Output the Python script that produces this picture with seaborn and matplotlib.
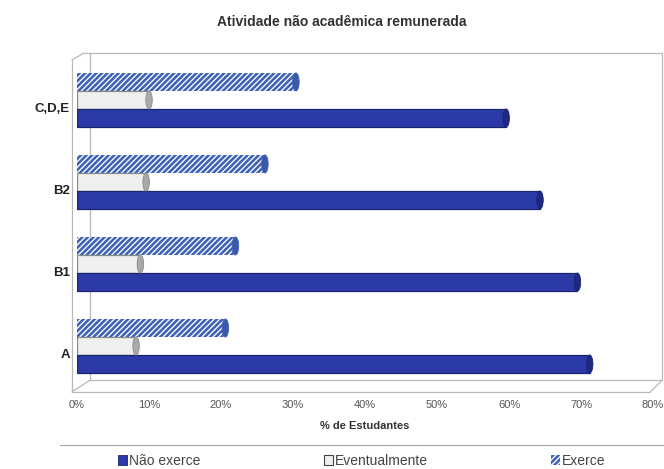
import matplotlib
matplotlib.use("Agg")
import matplotlib.pyplot as plt
import matplotlib.transforms as mtransforms
from matplotlib.patches import Patch, Ellipse
from matplotlib.lines import Line2D
import pandas as pd
import seaborn as sns

# data (% de estudantes)
grupos = ["C,D,E", "B2", "B1", "A"]
nao_exerce = [59.6, 64.3, 69.5, 71.2]
eventualmente = [10.0, 9.6, 8.8, 8.2]
exerce = [30.4, 26.1, 22.0, 20.6]
situacoes = ["Não exerce", "Eventualmente", "Exerce"]
xticks = [0, 10, 20, 30, 40, 50, 60, 70, 80]
xticklabels = ["0%", "10%", "20%", "30%", "40%", "50%", "60%", "70%", "80%"]

cores = {"Não exerce": "#2c3aa8", "Eventualmente": "#eef0ee", "Exerce": "#3f62b8"}
bordas = {"Não exerce": "#1c2470", "Eventualmente": "#8a8a8a", "Exerce": "#3f62b8"}
tampas = {"Não exerce": "#1e2880", "Eventualmente": "#a8aaa8", "Exerce": "#3a5aa8"}

df = pd.DataFrame({
    "grupo": grupos * 3,
    "situacao": ["Não exerce"] * 4 + ["Eventualmente"] * 4 + ["Exerce"] * 4,
    "pct": nao_exerce + eventualmente + exerce,
})

sns.set_style("white")
plt.rcParams["font.family"] = ["Liberation Sans", "DejaVu Sans"]
plt.rcParams["hatch.linewidth"] = 0.95

fig = plt.figure(figsize=(6.64, 4.69), dpi=100)
ax = fig.add_axes([0.116, 0.1748, 0.8675, 0.6994])

# Exerce on top, Não exerce at the bottom of each group
hue_order = ["Exerce", "Eventualmente", "Não exerce"]
sns.barplot(data=df, y="grupo", x="pct", hue="situacao", order=grupos,
            hue_order=hue_order, orient="h", width=0.66, palette=cores,
            saturation=1, legend=False, ax=ax)

for cont, nome in zip(ax.containers, hue_order):
    for bar in cont:
        bar.set_zorder(2)
        if nome == "Exerce":
            bar.set_edgecolor("white")
            bar.set_linewidth(0)
            bar.set_hatch("//////")
        else:
            bar.set_edgecolor(bordas[nome])
            bar.set_linewidth(0.9)
        # rounded cylinder end
        y0 = bar.get_y()
        h = bar.get_height()
        cap = Ellipse((bar.get_x() + bar.get_width(), y0 + h / 2), 0.9, h,
                      facecolor=tampas[nome], edgecolor=bordas[nome],
                      lw=0.6, zorder=3)
        ax.add_patch(cap)

ax.set_xlim(0, 80)
ax.set_ylim(3.5, -0.5)
ax.set_xticks(xticks)
ax.set_xticklabels(xticklabels, fontsize=8, color="#555555")
ax.tick_params(axis="x", length=0, pad=9)
ax.tick_params(axis="y", length=0, pad=5)
for lab in ax.get_yticklabels():
    lab.set_fontweight("bold")
    lab.set_fontsize(9.5)
    lab.set_color("#222222")
    lab.set_transform(lab.get_transform() +
                      mtransforms.ScaledTranslation(0, -0.07, fig.dpi_scale_trans))
ax.set_ylabel("")
ax.set_xlabel("% de Estudantes", fontsize=8, fontweight="bold",
              color="#333333", labelpad=8)
for s in ax.spines.values():
    s.set_visible(False)

# pseudo 3D frame around the plot area
frame = [
    ([-0.009, -0.009], [0.997, -0.015]),
    ([-0.009, 0.012], [0.997, 1.018]),
    ([0.012, 1.016], [1.018, 1.018]),
    ([1.016, 1.016], [1.018, 0.021]),
    ([0.023, 0.023], [1.018, 0.021]),
    ([0.023, 1.016], [0.021, 0.021]),
    ([-0.009, 0.995], [-0.015, -0.015]),
    ([-0.009, 0.023], [-0.015, 0.021]),
    ([0.995, 1.016], [-0.015, 0.021]),
]
for xs, ys in frame:
    ax.plot(xs, ys, transform=ax.transAxes, clip_on=False,
            color="#b8b8b8", lw=0.9, zorder=0.5)

fig.text(0.514, 0.953, "Atividade não acadêmica remunerada",
         ha="center", va="center", fontsize=10, fontweight="bold",
         color="#333333")

# separator above the legend
fig.add_artist(Line2D([0.09, 1.0], [1 - 445 / 469, 1 - 445 / 469],
                      transform=fig.transFigure, color="#aaaaaa", lw=0.9))

handles = [
    Patch(facecolor=cores["Não exerce"], edgecolor=bordas["Não exerce"], lw=0.6),
    Patch(facecolor=cores["Eventualmente"], edgecolor="#444444", lw=0.8),
    Patch(facecolor=cores["Exerce"], edgecolor="white", lw=0, hatch="//////"),
]
fig.legend(handles, situacoes, loc="center", ncol=3,
           bbox_to_anchor=(0.545, 1 - 461 / 469), frameon=False,
           fontsize=10, handlelength=0.65, handleheight=0.65,
           handletextpad=0.15, columnspacing=8.85, labelcolor="#444444")

fig.savefig("out.png", dpi=100)
